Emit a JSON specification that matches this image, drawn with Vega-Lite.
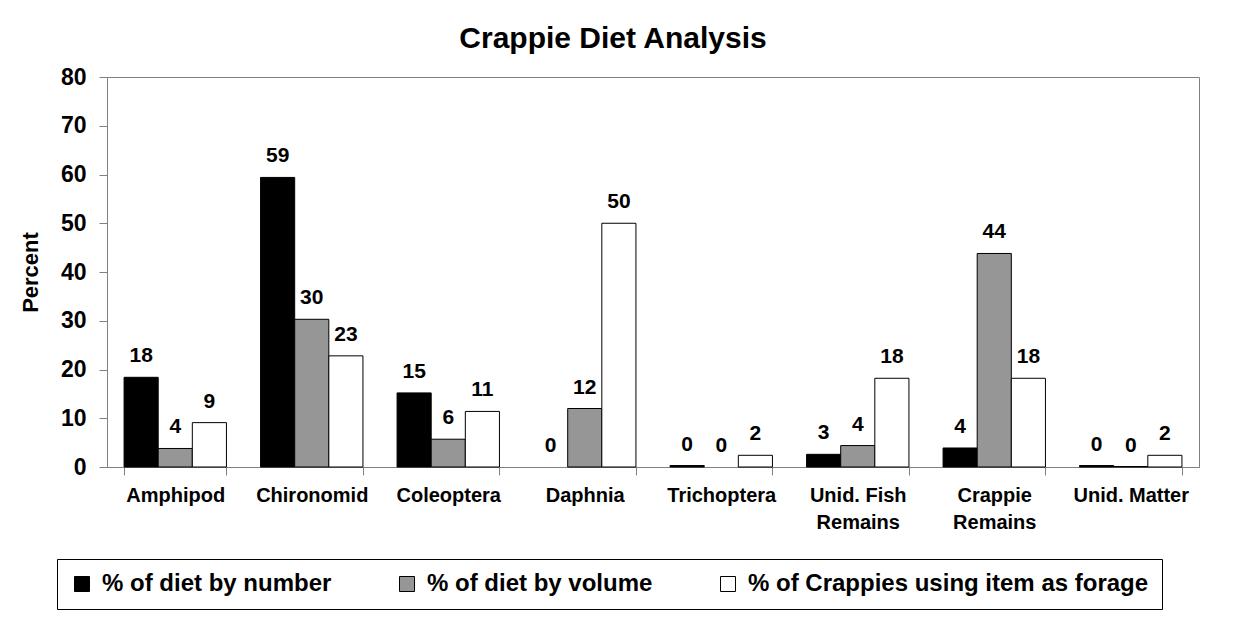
{
  "$schema": "https://vega.github.io/schema/vega-lite/v6.json",
  "width": 1092,
  "height": 390,
  "autosize": {"type": "none"},
  "padding": {"left": 107, "top": 77, "right": 34, "bottom": 166},
  "background": "white",
  "title": {
    "text": "Crappie Diet Analysis",
    "fontSize": 30,
    "fontWeight": "bold",
    "font": "Liberation Sans",
    "color": "#000000",
    "anchor": "middle",
    "dx": -40,
    "dy": 42,
    "baseline": "alphabetic",
    "offset": 30
  },
  "config": {
    "font": "Liberation Sans",
    "view": {"stroke": "#808080", "strokeWidth": 1}
  },
  "data": {
    "values": [
      {"item": "Amphipod", "series": "% of diet by number", "value": 18.4},
      {"item": "Amphipod", "series": "% of diet by volume", "value": 3.8},
      {"item": "Amphipod", "series": "% of Crappies using item as forage", "value": 9.1},
      {"item": "Chironomid", "series": "% of diet by number", "value": 59.4},
      {"item": "Chironomid", "series": "% of diet by volume", "value": 30.3},
      {"item": "Chironomid", "series": "% of Crappies using item as forage", "value": 22.8},
      {"item": "Coleoptera", "series": "% of diet by number", "value": 15.2},
      {"item": "Coleoptera", "series": "% of diet by volume", "value": 5.7},
      {"item": "Coleoptera", "series": "% of Crappies using item as forage", "value": 11.4},
      {"item": "Daphnia", "series": "% of diet by number", "value": 0},
      {"item": "Daphnia", "series": "% of diet by volume", "value": 12.0},
      {"item": "Daphnia", "series": "% of Crappies using item as forage", "value": 50.0},
      {"item": "Trichoptera", "series": "% of diet by number", "value": 0.3},
      {"item": "Trichoptera", "series": "% of diet by volume", "value": 0},
      {"item": "Trichoptera", "series": "% of Crappies using item as forage", "value": 2.4},
      {"item": "Unid. Fish Remains", "series": "% of diet by number", "value": 2.6},
      {"item": "Unid. Fish Remains", "series": "% of diet by volume", "value": 4.4},
      {"item": "Unid. Fish Remains", "series": "% of Crappies using item as forage", "value": 18.2},
      {"item": "Crappie Remains", "series": "% of diet by number", "value": 3.9},
      {"item": "Crappie Remains", "series": "% of diet by volume", "value": 43.8},
      {"item": "Crappie Remains", "series": "% of Crappies using item as forage", "value": 18.2},
      {"item": "Unid. Matter", "series": "% of diet by number", "value": 0.3},
      {"item": "Unid. Matter", "series": "% of diet by volume", "value": 0.1},
      {"item": "Unid. Matter", "series": "% of Crappies using item as forage", "value": 2.4}
    ]
  },
  "encoding": {
    "x": {
      "field": "item",
      "type": "nominal",
      "sort": ["Amphipod", "Chironomid", "Coleoptera", "Daphnia", "Trichoptera", "Unid. Fish Remains", "Crappie Remains", "Unid. Matter"],
      "scale": {"paddingInner": 0.25, "paddingOuter": 0.125},
      "axis": {
        "title": null,
        "labelAngle": 0,
        "labelFont": "Liberation Sans",
        "labelFontSize": 20,
        "labelFontWeight": "bold",
        "labelColor": "#000000",
        "labelPadding": 10,
        "labelLineHeight": 27,
        "labelExpr": "datum.value == 'Unid. Fish Remains' ? ['Unid. Fish', 'Remains'] : datum.value == 'Crappie Remains' ? ['Crappie', 'Remains'] : datum.value",
        "tickBand": "extent",
        "tickSize": 8,
        "tickColor": "#808080",
        "domainColor": "#808080",
        "grid": false
      }
    },
    "xOffset": {
      "field": "series",
      "type": "nominal",
      "sort": ["% of diet by number", "% of diet by volume", "% of Crappies using item as forage"],
      "scale": {"paddingInner": 0, "paddingOuter": 0}
    },
    "y": {
      "field": "value",
      "type": "quantitative",
      "scale": {"domain": [0, 80], "nice": false},
      "axis": {
        "title": "Percent",
        "titleFont": "Liberation Sans",
        "titleFontSize": 22,
        "titleFontWeight": "bold",
        "titleColor": "#000000",
        "titlePadding": 18,
        "values": [0, 10, 20, 30, 40, 50, 60, 70, 80],
        "labelFont": "Liberation Sans",
        "labelFontSize": 23,
        "labelFontWeight": "bold",
        "labelColor": "#000000",
        "labelPadding": 13,
        "tickSize": 8,
        "tickColor": "#808080",
        "domainColor": "#808080",
        "grid": false
      }
    }
  },
  "layer": [
    {
      "transform": [{"filter": "datum.value > 0"}],
      "mark": {"type": "bar", "stroke": "#000000", "strokeWidth": 1},
      "encoding": {
        "fill": {
          "field": "series",
          "type": "nominal",
          "sort": ["% of diet by number", "% of diet by volume", "% of Crappies using item as forage"],
          "scale": {
            "domain": ["% of diet by number", "% of diet by volume", "% of Crappies using item as forage"],
            "range": ["#000000", "#969696", "#ffffff"]
          },
          "legend": {
            "title": null,
            "orient": "none",
            "legendX": -50,
            "legendY": 482,
            "direction": "horizontal",
            "columns": 3,
            "padding": 13,
            "columnPadding": 63,
            "strokeColor": "#000000",
            "fillColor": "#ffffff",
            "symbolType": "square",
            "symbolSize": 225,
            "symbolStrokeColor": "#000000",
            "symbolStrokeWidth": 1,
            "labelFont": "Liberation Sans",
            "labelFontSize": 24,
            "labelFontWeight": "bold",
            "labelColor": "#000000",
            "labelOffset": 8,
            "labelLimit": 600
          }
        }
      }
    },
    {
      "mark": {
        "type": "text",
        "baseline": "bottom",
        "dy": -11,
        "fontSize": 21,
        "fontWeight": "bold",
        "font": "Liberation Sans",
        "color": "#000000"
      },
      "encoding": {
        "text": {"field": "value", "type": "quantitative", "format": ".0f"}
      }
    }
  ]
}
